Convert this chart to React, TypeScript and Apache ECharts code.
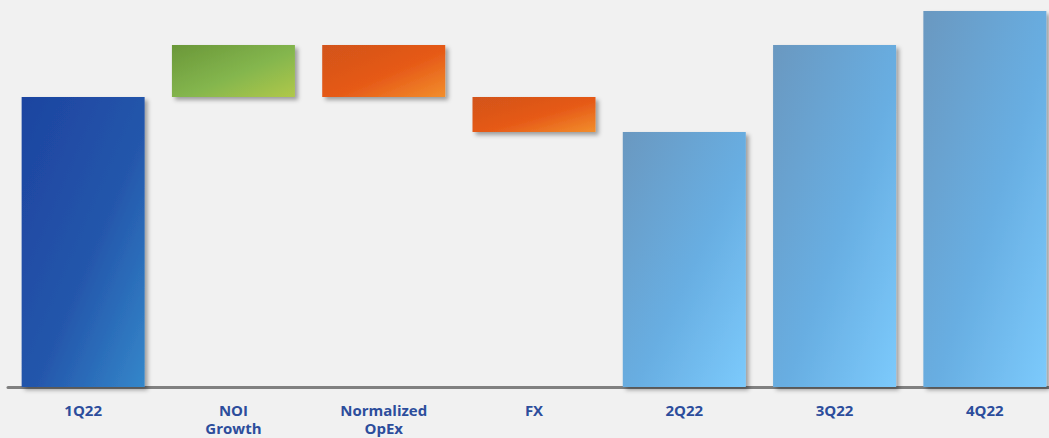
import React, { useEffect, useRef } from "react";
import * as echarts from "echarts";

const categories = ["1Q22", "NOI\nGrowth", "Normalized\nOpEx", "FX", "2Q22", "3Q22", "4Q22"];
const startValue = 290;
const changes = [52, -52, -35];
const quarterTotals = [255, 342, 376];

const grad = (c0: string, c1: string, c2: string) =>
  new echarts.graphic.LinearGradient(0, 0, 1, 1, [
    { offset: 0, color: c0 },
    { offset: 0.55, color: c1 },
    { offset: 1, color: c2 },
  ]);

export default function App() {
  const ref = useRef<HTMLDivElement>(null);
  useEffect(() => {
    if (!ref.current) return;
    const chart = echarts.init(ref.current, null, { renderer: "svg" });

    const blue1 = grad("#1d44a0", "#2456ab", "#3487ca");
    const green = grad("#6a9738", "#84b64e", "#b0c84a");
    const orange = grad("#d2531a", "#e65a18", "#f28e2c");
    const light = grad("#6a98c0", "#68aee2", "#7ccafc");

    const base: number[] = [];
    const vals: any[] = [];
    const shadow = {
      shadowBlur: 4,
      shadowOffsetX: 3,
      shadowOffsetY: 3,
      shadowColor: "rgba(0,0,0,0.35)",
    };
    base.push(0);
    vals.push({ value: startValue, itemStyle: { color: blue1, ...shadow } });
    let run = startValue;
    changes.forEach((c) => {
      if (c >= 0) {
        base.push(run);
        vals.push({ value: c, itemStyle: { color: green, ...shadow } });
      } else {
        base.push(run + c);
        vals.push({ value: -c, itemStyle: { color: orange, ...shadow } });
      }
      run += c;
    });
    quarterTotals.forEach((t) => {
      base.push(0);
      vals.push({ value: t, itemStyle: { color: light, ...shadow } });
    });

    chart.setOption({
      animation: false,
      backgroundColor: "#f1f1f1",
      grid: { left: 8, top: 7, width: 1052, bottom: 51, containLabel: false },
      xAxis: {
        type: "category",
        data: categories,
        axisLine: { lineStyle: { color: "#808080", width: 3 } },
        axisTick: { show: false },
        axisLabel: {
          interval: 0,
          margin: 14,
          fontFamily: "Open Sans",
          fontWeight: "bold",
          fontSize: 15,
          lineHeight: 18,
          color: "#2c4d9c",
        },
      },
      yAxis: {
        type: "value",
        min: 0,
        max: 380,
        show: false,
        splitLine: { show: false },
      },
      series: [
        {
          type: "bar",
          stack: "w",
          data: base,
          barWidth: 123,
          itemStyle: { color: "transparent" },
          silent: true,
        },
        {
          type: "bar",
          stack: "w",
          data: vals,
          barWidth: 123,
        },
      ],
    });
    return () => chart.dispose();
  }, []);
  return (
    <div
      ref={ref}
      style={{ position: "fixed", left: 0, top: 0, width: 1070, height: 438 }}
    />
  );
}
